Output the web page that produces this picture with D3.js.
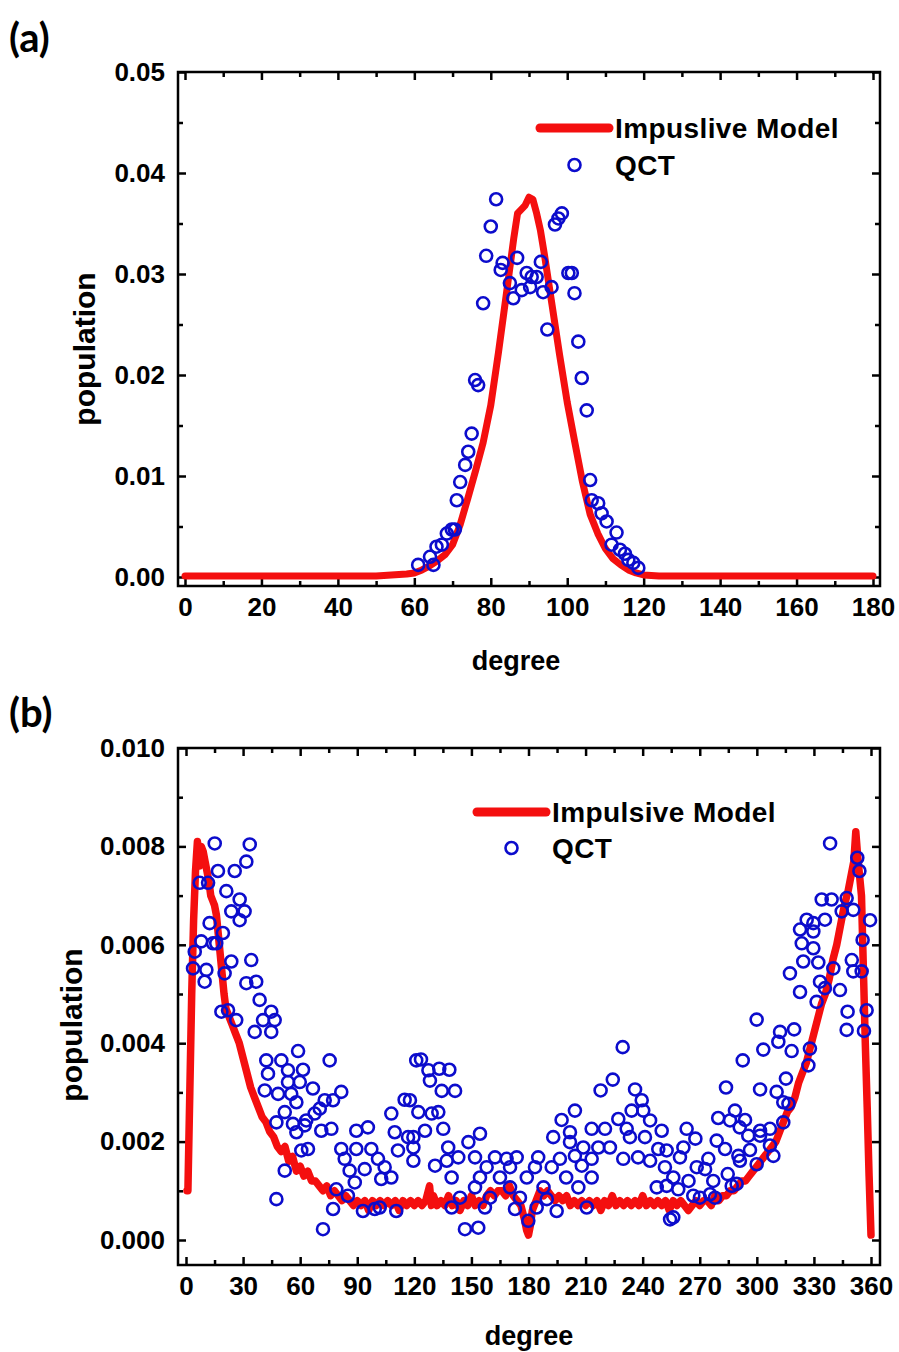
<!DOCTYPE html>
<html><head><meta charset="utf-8">
<script src="https://cdn.jsdelivr.net/npm/d3@7"></script>
<style>
html,body{margin:0;padding:0;background:#fff;}
svg{display:block;}
text{font-family:"Liberation Sans",Arial,sans-serif;font-weight:bold;fill:#000;}
.panel{font-family:Lato,"Open Sans",sans-serif;font-weight:bold;}
</style></head>
<body>
<script>
// ---------------- DATA ----------------
// Panel (a): impulsive model curve [degree, population]
const aModel = [[0,0.0001],[10,0.0001],[20,0.0001],[30,0.0001],[40,0.0001],[50,0.0001],[54,0.0002],[58,0.0003],[60,0.0004],[62,0.0007],[64,0.0011],[66,0.0016],[68,0.0022],[70,0.0032],[72,0.0052],[74,0.0078],[76,0.0105],[78,0.0133],[80,0.0170],[82,0.0222],[84,0.0278],[86,0.0335],[87,0.0360],[88,0.0364],[89,0.0368],[90,0.0376],[91,0.0374],[92,0.0360],[93,0.0343],[94,0.0320],[96,0.0270],[98,0.0220],[100,0.0173],[102,0.0133],[104,0.0094],[106,0.0062],[108,0.0043],[110,0.0028],[112,0.0018],[114,0.0012],[116,0.0007],[118,0.0004],[120,0.0002],[124,0.0001],[130,0.0001],[140,0.0001],[150,0.0001],[160,0.0001],[170,0.0001],[180,0.0001]];
// Panel (a): QCT points
const aQCT = [[61.0,0.0012],[64.1,0.0020],[65.0,0.0012],[65.8,0.0030],[67.2,0.0032],[68.5,0.0043],[69.8,0.0047],[70.6,0.0047],[71.1,0.0076],[72.0,0.0094],[73.3,0.0111],[74.1,0.0124],[75.0,0.0142],[75.9,0.0195],[76.7,0.0190],[78.0,0.0271],[78.8,0.0318],[80.0,0.0347],[81.4,0.0374],[82.6,0.0304],[83.1,0.0311],[85.0,0.0291],[85.9,0.0276],[86.9,0.0316],[88.1,0.0284],[89.4,0.0301],[90.3,0.0287],[90.7,0.0297],[92.0,0.0297],[93.1,0.0312],[93.7,0.0282],[94.8,0.0245],[95.9,0.0287],[96.8,0.0349],[97.7,0.0355],[98.6,0.0360],[100.3,0.0301],[101.2,0.0301],[101.9,0.0281],[102.9,0.0233],[103.8,0.0197],[105.1,0.0165],[106.0,0.0096],[106.4,0.0076],[108.1,0.0073],[109.0,0.0063],[110.3,0.0055],[111.6,0.0032],[112.9,0.0044],[113.8,0.0027],[115.1,0.0023],[116.0,0.0017],[117.3,0.0014],[118.6,0.0009]];
// Panel (b): impulsive model curve
const bModel = [[0.5,0.0010],[1,0.0010],[2,0.0030],[3,0.0050],[4,0.0065],[5,0.0075],[6,0.0081],[7,0.0076],[8,0.0080],[9,0.0079],[10,0.0077],[11,0.0075],[12,0.0073],[13,0.0070],[14,0.0069],[15,0.0068],[16,0.0066],[17,0.0062],[18,0.0058],[19,0.0054],[20,0.0050],[21,0.0047],[22,0.0046],[23,0.0045],[24,0.0044],[26,0.0042],[28,0.0040],[30,0.0037],[32,0.0034],[34,0.0031],[36,0.0029],[38,0.0027],[40,0.0025],[42,0.0024],[44,0.0022],[46,0.0021],[48,0.0019],[50,0.0018],[52,0.0019],[54,0.0016],[56,0.0017],[58,0.0014],[60,0.0015],[62,0.0013],[64,0.0014],[66,0.0012],[68,0.0012],[70,0.0011],[72,0.0010],[74,0.0011],[76,0.0009],[78,0.0010],[80,0.0009],[82,0.0008],[84,0.0009],[86,0.0008],[88,0.0007],[90,0.0008],[92,0.0007],[94,0.0008],[96,0.0006],[98,0.0008],[100,0.0007],[102,0.0008],[104,0.0007],[106,0.0008],[108,0.0007],[110,0.0008],[112,0.0006],[114,0.0008],[116,0.0007],[118,0.0008],[120,0.0007],[122,0.0008],[124,0.0007],[126,0.0008],[128,0.0011],[129,0.0007],[130,0.0009],[132,0.0007],[134,0.0008],[136,0.0007],[138,0.0009],[140,0.0007],[142,0.0008],[144,0.0006],[146,0.0008],[148,0.0007],[150,0.0009],[152,0.0007],[154,0.0008],[156,0.0007],[158,0.0009],[160,0.0010],[162,0.0009],[164,0.0010],[166,0.0010],[168,0.0009],[170,0.0011],[172,0.0009],[174,0.0008],[176,0.0007],[178,0.0004],[179,0.0002],[180,0.0001],[181,0.0003],[182,0.0006],[184,0.0008],[186,0.0010],[188,0.0009],[190,0.0010],[192,0.0009],[194,0.0008],[196,0.0009],[198,0.0008],[200,0.0009],[202,0.0007],[204,0.0008],[206,0.0007],[208,0.0008],[210,0.0007],[212,0.0008],[214,0.0007],[216,0.0008],[218,0.0006],[220,0.0008],[222,0.0007],[224,0.0009],[226,0.0007],[228,0.0008],[230,0.0007],[232,0.0008],[234,0.0007],[236,0.0008],[238,0.0007],[240,0.0009],[242,0.0007],[244,0.0008],[246,0.0007],[248,0.0008],[250,0.0007],[252,0.0008],[254,0.0006],[256,0.0008],[258,0.0007],[260,0.0008],[262,0.0007],[264,0.0006],[266,0.0007],[268,0.0008],[270,0.0007],[272,0.0008],[274,0.0008],[276,0.0007],[278,0.0009],[280,0.0008],[282,0.0009],[284,0.0009],[286,0.0010],[288,0.0010],[290,0.0011],[292,0.0012],[294,0.0012],[296,0.0013],[298,0.0014],[300,0.0015],[302,0.0016],[304,0.0017],[306,0.0018],[308,0.0019],[310,0.0020],[312,0.0022],[314,0.0024],[316,0.0026],[318,0.0027],[320,0.0029],[322,0.0032],[324,0.0034],[326,0.0036],[328,0.0039],[330,0.0042],[332,0.0045],[334,0.0048],[336,0.0050],[338,0.0053],[340,0.0057],[342,0.0060],[344,0.0064],[346,0.0068],[348,0.0071],[350,0.0075],[351,0.0077],[352,0.0083],[353,0.0078],[354,0.0074],[355,0.0070],[356,0.0055],[357,0.0040],[358,0.0027],[359,0.0013],[360,0.0001]];
// Panel (b): QCT points
const bQCT = [[15.1,0.00806],[33.5,0.00804],[31.7,0.00769],[16.8,0.0075],[25.6,0.0075],[7.2,0.00726],[11.6,0.00726],[21.2,0.00709],[28.2,0.00692],[23.8,0.00668],[30.8,0.00668],[28.2,0.0065],[12.4,0.00644],[19.4,0.00624],[8.0,0.00607],[14.2,0.00603],[15.9,0.00603],[4.6,0.00586],[34.3,0.00569],[23.8,0.00566],[3.7,0.00552],[10.7,0.00549],[20.3,0.00542],[36.9,0.00525],[31.7,0.00522],[9.8,0.00525],[38.7,0.00488],[18.6,0.00464],[22.1,0.00467],[44.8,0.00464],[26.4,0.00447],[40.5,0.00447],[46.6,0.00447],[36.1,0.00423],[44.8,0.00423],[58.9,0.00384],[75.5,0.00365],[42.2,0.00365],[50.1,0.00365],[43.1,0.00338],[53.6,0.00345],[61.5,0.00346],[53.6,0.00321],[59.8,0.00321],[66.7,0.00308],[41.4,0.00304],[48.4,0.00297],[55.3,0.00297],[81.6,0.00301],[58.0,0.0028],[72.9,0.00284],[77.3,0.00284],[70.3,0.00267],[51.9,0.0026],[67.6,0.00257],[63.2,0.00243],[47.5,0.00239],[56.2,0.00236],[62.4,0.00233],[58.0,0.00219],[71.1,0.00222],[76.4,0.00226],[89.5,0.00222],[95.6,0.00229],[114.9,0.00285],[107.9,0.00257],[60.6,0.00182],[64.1,0.00185],[81.6,0.00185],[89.5,0.00185],[97.4,0.00185],[83.4,0.00165],[100.9,0.00165],[109.7,0.00219],[116.7,0.00209],[111.4,0.00182],[104.4,0.00148],[93.9,0.00144],[86.0,0.00141],[107.9,0.00127],[102.6,0.00124],[88.7,0.00117],[51.9,0.00141],[79.0,0.00103],[85.1,0.0009],[47.5,0.00083],[77.3,0.00063],[93.0,0.00059],[99.2,0.00063],[101.8,0.00066],[110.5,0.00059],[72.0,0.00022],[121.0,0.00365],
[229.5,0.00392],[123.5,0.00367],[127.4,0.00345],[133.1,0.00348],[138.4,0.00346],[128.2,0.00324],[134.4,0.00303],[141.4,0.00303],[224.3,0.00326],[217.9,0.00304],[236.0,0.00306],[239.5,0.00284],[122.1,0.0026],[129.1,0.00257],[132.6,0.0026],[204.4,0.00263],[234.2,0.00263],[240.3,0.00263],[117.7,0.00284],[197.4,0.00244],[227.2,0.00246],[243.9,0.00243],[125.6,0.00222],[135.2,0.00226],[213.2,0.00226],[220.2,0.00226],[231.6,0.00226],[250.0,0.00222],[154.5,0.00216],[193.0,0.00209],[201.8,0.00219],[233.3,0.00209],[119.5,0.00209],[148.4,0.00199],[241.2,0.00209],[119.5,0.00188],[137.8,0.00188],[201.8,0.00199],[208.8,0.00188],[216.7,0.00188],[222.8,0.00188],[248.2,0.00185],[252.6,0.00182],[143.1,0.00168],[151.9,0.00168],[162.4,0.00168],[168.5,0.00165],[173.8,0.00168],[185.1,0.00168],[196.5,0.00165],[204.4,0.00171],[213.2,0.00165],[229.8,0.00165],[237.6,0.00168],[243.9,0.00161],[119.5,0.00161],[137.0,0.00161],[130.9,0.00151],[158.0,0.00148],[170.3,0.00148],[183.4,0.00148],[192.2,0.00148],[208.0,0.00151],[251.7,0.00148],[154.5,0.00127],[139.6,0.00127],[165.0,0.00127],[179.1,0.00127],[199.8,0.00127],[213.2,0.00127],[247.4,0.00107],[151.9,0.00107],[170.3,0.00107],[187.9,0.00107],[206.2,0.00107],[144.0,0.00086],[159.8,0.00086],[175.5,0.00086],[189.6,0.00083],[139.6,0.00066],[157.1,0.00066],[172.9,0.00063],[184.3,0.00066],[194.8,0.00059],[210.6,0.00066],[179.9,0.00039],[146.6,0.00022],[153.6,0.00025],[254.4,0.00042],
[338.5,0.00806],[352.8,0.00777],[353.9,0.0075],[334.1,0.00692],[339.3,0.00692],[347.2,0.00695],[344.6,0.00668],[350.7,0.00671],[326.2,0.00651],[335.8,0.00651],[329.7,0.00644],[359.5,0.0065],[322.7,0.00631],[329.7,0.00627],[323.6,0.00603],[355.6,0.0061],[329.7,0.00593],[324.4,0.00566],[332.3,0.00564],[340.2,0.00552],[349.9,0.00569],[317.4,0.00542],[333.2,0.00525],[350.7,0.00546],[355.1,0.00546],[335.8,0.00512],[322.7,0.00504],[343.7,0.00508],[331.4,0.00484],[347.7,0.00464],[357.7,0.00467],[347.2,0.00427],[356.3,0.00425],[299.9,0.00448],[312.2,0.00423],[319.6,0.00428],[311.3,0.00403],[303.4,0.00387],[318.3,0.00384],[327.9,0.00389],[292.6,0.00365],[327.1,0.00355],[315.3,0.00328],[283.8,0.0031],[301.7,0.00306],[310.4,0.00301],[313.9,0.0028],[316.6,0.00277],[288.5,0.00263],[279.7,0.00248],[285.9,0.00243],[293.8,0.00244],[313.9,0.00239],[263.1,0.00226],[291.0,0.00229],[301.7,0.00222],[306.9,0.00226],[267.7,0.00206],[278.9,0.00202],[295.5,0.00212],[301.7,0.00212],[283.3,0.00185],[296.4,0.00183],[261.4,0.00188],[306.9,0.00192],[308.7,0.00171],[290.3,0.00171],[274.5,0.00165],[259.6,0.00168],[268.4,0.00148],[291.1,0.00161],[299.9,0.00154],[272.8,0.00144],[284.7,0.00134],[256.1,0.00127],[264.1,0.0012],[277.1,0.0012],[289.4,0.00114],[252.6,0.0011],[258.7,0.00103],[266.6,0.0009],[275.4,0.00093],[286.8,0.0011],[270.1,0.00086],[278.0,0.00086],[256.1,0.00046]];
// Axis ticks
const aXMajor = [0,20,40,60,80,100,120,140,160,180];
const aXMinor = [10,30,50,70,90,110,130,150,170];
const aYMajor = [0,0.01,0.02,0.03,0.04,0.05];
const aYMinor = [0.005,0.015,0.025,0.035,0.045];
const bXMajor = [0,30,60,90,120,150,180,210,240,270,300,330,360];
const bXMinor = [15,45,75,105,135,165,195,225,255,285,315,345];
const bYMajor = [0,0.002,0.004,0.006,0.008,0.010];
const bYMinor = [0.001,0.003,0.005,0.007,0.009];
const aLegend = ["Impuslive Model","QCT"];
const bLegend = ["Impulsive Model","QCT"];

// ---------------- DRAW ----------------
const W=899,H=1352;
const svg=d3.select("body").append("svg").attr("width",W).attr("height",H);
const RED="#f40f0f", BLUE="#0c0ccc";

function panel(o){
  const g=svg.append("g");
  const x=d3.scaleLinear().domain(o.xd).range([o.L,o.R]);
  const y=d3.scaleLinear().domain(o.yd).range([o.B,o.T]);
  g.append("rect").attr("x",o.L).attr("y",o.T).attr("width",o.R-o.L).attr("height",o.B-o.T)
    .attr("fill","none").attr("stroke","#000").attr("stroke-width",2.5);
  const fs=26;
  function ax(gen,tr,vals,size,fmt,pad){
    const a=g.append("g").attr("transform",tr)
      .call(gen.tickValues(vals).tickSizeInner(size).tickSizeOuter(0).tickPadding(pad).tickFormat(fmt));
    a.select(".domain").remove();
    a.selectAll("line").attr("stroke","#000").attr("stroke-width",2.5);
    a.selectAll("text").attr("font-size",fs).attr("font-family",null).style("font-weight","bold").attr("fill","#000");
    return a;
  }
  const none=()=>"";
  ax(d3.axisBottom(x),`translate(0,${o.B})`,o.xMaj,-8,d3.format("d"),12);
  ax(d3.axisBottom(x),`translate(0,${o.B})`,o.xMin,-5,none,12);
  ax(d3.axisTop(x),`translate(0,${o.T})`,o.xMaj,-8,none,0);
  ax(d3.axisTop(x),`translate(0,${o.T})`,o.xMin,-5,none,0);
  ax(d3.axisLeft(y),`translate(${o.L},0)`,o.yMaj,-8,d3.format(o.yf),13);
  ax(d3.axisLeft(y),`translate(${o.L},0)`,o.yMin,-5,none,13);
  ax(d3.axisRight(y),`translate(${o.R},0)`,o.yMaj,-8,none,0);
  ax(d3.axisRight(y),`translate(${o.R},0)`,o.yMin,-5,none,0);

  g.append("path").datum(o.model)
    .attr("d",d3.line().x(d=>x(d[0])).y(d=>y(d[1])))
    .attr("fill","none").attr("stroke",RED).attr("stroke-width",o.lw)
    .attr("stroke-linejoin","round").attr("stroke-linecap","round");
  g.append("g").selectAll("circle").data(o.qct).join("circle")
    .attr("cx",d=>x(d[0])).attr("cy",d=>y(d[1])).attr("r",6)
    .attr("fill","none").attr("stroke",BLUE).attr("stroke-width",2.6);

  const lg=g.append("g");
  lg.append("line").attr("x1",o.lgX1).attr("x2",o.lgX2).attr("y1",o.lgY).attr("y2",o.lgY)
    .attr("stroke",RED).attr("stroke-width",9).attr("stroke-linecap","round");
  lg.append("circle").attr("cx",(o.lgX1+o.lgX2)/2).attr("cy",o.lgY+o.lgGap).attr("r",6)
    .attr("fill","none").attr("stroke",BLUE).attr("stroke-width",2.6);
  lg.append("text").attr("x",o.lgTx).attr("y",o.lgY+10).attr("font-size",28).attr("letter-spacing",0.4).text(o.legend[0]);
  lg.append("text").attr("x",o.lgTx).attr("y",o.lgY+o.lgGap+10).attr("font-size",28).attr("letter-spacing",0.4).text(o.legend[1]);

  g.append("text").attr("x",o.xtX).attr("y",o.xtY).attr("text-anchor","middle").attr("font-size",27).text("degree");
  g.append("text").attr("transform",`translate(${o.ytX},${o.ytY}) rotate(-90)`).attr("text-anchor","middle")
    .attr("font-size",30).text("population");
  g.append("text").attr("class","panel").attr("x",9).attr("y",o.pY).attr("font-size",40).text(o.label);
}

const aPx=(873-185)/180, aPy=(577-72)/0.05;
panel({L:178,R:880,T:72,B:586,
  xd:[(178-185)/aPx,180+(880-873)/aPx], yd:[-(586-577)/aPy,0.05],
  xMaj:aXMajor,xMin:aXMinor,yMaj:aYMajor,yMin:aYMinor,yf:".2f",
  model:aModel,qct:aQCT,legend:aLegend,lw:7,
  lgX1:540,lgX2:609,lgY:128,lgGap:37,lgTx:615,
  xtX:516,xtY:670,ytX:95,ytY:349,label:"(a)",pY:52});

const bPx=(871-186)/360, bPy=(1240-748)/0.010;
panel({L:178,R:880,T:748,B:1265,
  xd:[(178-186)/bPx,360+(880-871)/bPx], yd:[-(1265-1240)/bPy,0.010],
  xMaj:bXMajor,xMin:bXMinor,yMaj:bYMajor,yMin:bYMinor,yf:".3f",
  model:bModel,qct:bQCT,legend:bLegend,lw:7.5,
  lgX1:477,lgX2:546,lgY:812,lgGap:36,lgTx:552,
  xtX:529,xtY:1345,ytX:82,ytY:1025,label:"(b)",pY:727});
</script>
</body></html>
